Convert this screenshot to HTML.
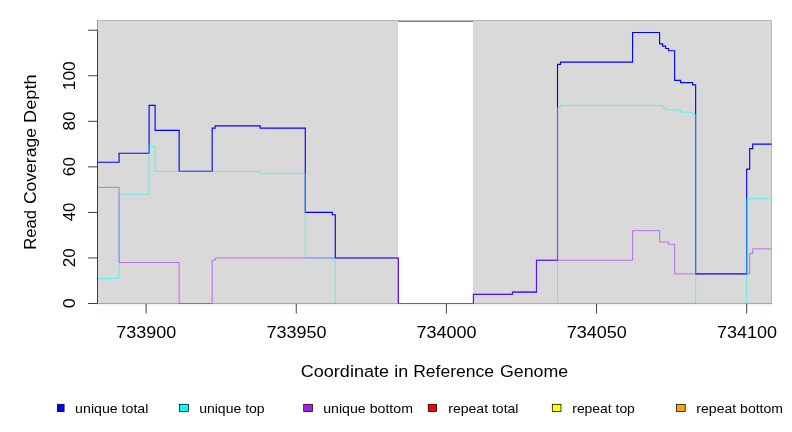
<!DOCTYPE html>
<html><head><meta charset="utf-8"><title>Read Coverage Depth</title>
<style>
html,body{margin:0;padding:0;background:#fff;}
body{width:792px;height:432px;overflow:hidden;}
svg{display:block;font-family:"Liberation Sans",sans-serif;will-change:transform;}
</style></head><body>
<svg width="792" height="432" viewBox="0 0 792 432">
<rect x="0" y="0" width="792" height="432" fill="#ffffff"/>

<g shape-rendering="crispEdges">
<rect x="97" y="20" width="675" height="1" fill="#b8b8b8"/>
<rect x="398" y="21" width="75" height="1" fill="#808080"/>
<rect x="98" y="21" width="300" height="283" fill="#d9d9d9"/>
<rect x="473" y="21" width="298" height="283" fill="#d9d9d9"/>
<rect x="771" y="20" width="1" height="284" fill="#b8b8b8"/>
<rect x="97" y="20" width="1" height="11" fill="#a0a0a0"/>
</g>
<g fill="none" stroke-linejoin="miter" stroke-linecap="butt">
<rect x="98" y="304" width="674" height="1" fill="#ff0000" fill-opacity="0.09" shape-rendering="crispEdges"/>
<path d="M98.00 303.50H772.00" stroke="#ff0000" stroke-width="1.125"/>
<path d="M98.00 303.50H772.00" stroke="#ffff00" stroke-width="0.5625"/>
<path d="M98.00 303.50H772.00" stroke="#ffa500" stroke-width="0.5625"/>
<path d="M97.50 162.31H119.07V153.20H149.10V105.37H155.11V130.43H179.13V171.42H212.17V128.15H215.17V125.87H260.21V128.15H305.26V212.41H332.29V214.69H335.29V257.95H398.35V303.50H473.43V294.39H512.47V292.11H536.49V260.23H557.51V64.38H560.51V62.11H632.59V32.50H659.61V43.89H662.62V46.17H665.62V48.44H668.62V50.72H674.63V80.32H680.63V82.60H692.65V84.88H695.65V273.90H746.70V169.14H749.70V148.64H752.71V144.09H771.50" stroke="#0000ff" stroke-width="1.125"/>
<path d="M97.50 278.45H119.07V194.19H149.10V146.37H155.11V171.42H260.21V173.69H305.26V257.95H332.29V260.23H335.29V303.50H557.51V107.65H560.51V105.37H662.62V107.65H665.62V109.93H680.63V112.21H692.65V114.48H695.65V303.50H746.70V198.74H771.50" stroke="#00ffff" stroke-width="0.5625"/>
<path d="M97.50 187.36H119.07V262.51H179.13V303.50H212.17V260.23H215.17V257.95H398.35V303.50H473.43V294.39H512.47V292.11H536.49V260.23H632.59V230.63H659.61V242.01H668.62V244.29H674.63V273.90H749.70V253.40H752.71V248.84H771.50" stroke="#a020f0" stroke-width="0.5625"/>
</g>
<g fill="none" stroke="#000" stroke-width="0.75">
<path d="M97.50 30.22V303.50"/>
<path d="M97.50 303.50H88.00"/>
<path d="M97.50 257.95H88.00"/>
<path d="M97.50 212.41H88.00"/>
<path d="M97.50 166.86H88.00"/>
<path d="M97.50 121.32H88.00"/>
<path d="M97.50 75.77H88.00"/>
<path d="M97.50 30.22H88.00"/>
<path d="M146.10 303.90V313.50"/>
<path d="M296.25 303.90V313.50"/>
<path d="M446.40 303.90V313.50"/>
<path d="M596.55 303.90V313.50"/>
<path d="M746.70 303.90V313.50"/>
</g>
<g fill="#000">
<text x="116.34" y="337.90" font-size="16.7px" textLength="59.99" lengthAdjust="spacingAndGlyphs">733900</text>
<text x="266.49" y="337.90" font-size="16.7px" textLength="59.99" lengthAdjust="spacingAndGlyphs">733950</text>
<text x="416.64" y="337.90" font-size="16.7px" textLength="59.99" lengthAdjust="spacingAndGlyphs">734000</text>
<text x="566.79" y="337.90" font-size="16.7px" textLength="59.99" lengthAdjust="spacingAndGlyphs">734050</text>
<text x="716.94" y="337.90" font-size="16.7px" textLength="59.99" lengthAdjust="spacingAndGlyphs">734100</text>
<text x="75.40" y="308.26" font-size="16.7px" textLength="9.99" lengthAdjust="spacingAndGlyphs" transform="rotate(-90 75.40 308.26)">0</text>
<text x="75.40" y="267.22" font-size="16.7px" textLength="19.06" lengthAdjust="spacingAndGlyphs" transform="rotate(-90 75.40 267.22)">20</text>
<text x="75.40" y="221.16" font-size="16.7px" textLength="18.53" lengthAdjust="spacingAndGlyphs" transform="rotate(-90 75.40 221.16)">40</text>
<text x="75.40" y="176.13" font-size="16.7px" textLength="19.06" lengthAdjust="spacingAndGlyphs" transform="rotate(-90 75.40 176.13)">60</text>
<text x="75.40" y="130.59" font-size="16.7px" textLength="19.06" lengthAdjust="spacingAndGlyphs" transform="rotate(-90 75.40 130.59)">80</text>
<text x="75.40" y="90.27" font-size="16.7px" textLength="29.04" lengthAdjust="spacingAndGlyphs" transform="rotate(-90 75.40 90.27)">100</text>
<text x="36.10" y="249.78" font-size="16.3px" textLength="39.76" lengthAdjust="spacingAndGlyphs" transform="rotate(-90 36.10 249.78)">Read</text>
<text x="36.10" y="204.11" font-size="16.3px" textLength="76.07" lengthAdjust="spacingAndGlyphs" transform="rotate(-90 36.10 204.11)">Coverage</text>
<text x="36.10" y="122.90" font-size="16.3px" textLength="48.60" lengthAdjust="spacingAndGlyphs" transform="rotate(-90 36.10 122.90)">Depth</text>
<text x="300.77" y="377.00" font-size="16.3px" textLength="88.23" lengthAdjust="spacingAndGlyphs">Coordinate</text>
<text x="394.20" y="377.00" font-size="16.3px" textLength="13.93" lengthAdjust="spacingAndGlyphs">in</text>
<text x="413.16" y="377.00" font-size="16.3px" textLength="80.79" lengthAdjust="spacingAndGlyphs">Reference</text>
<text x="499.98" y="377.00" font-size="16.3px" textLength="68.14" lengthAdjust="spacingAndGlyphs">Genome</text>
</g>
<g>
<rect x="57.40" y="404.30" width="6.70" height="7.20" fill="#0000ff" stroke="#000" stroke-width="0.75"/>
<text x="75.14" y="412.70" font-size="12.4px" textLength="73.24" lengthAdjust="spacingAndGlyphs">unique total</text>
<rect x="179.30" y="404.30" width="9.20" height="7.20" fill="#00ffff" stroke="#000" stroke-width="0.75"/>
<text x="199.15" y="412.70" font-size="12.4px" textLength="65.52" lengthAdjust="spacingAndGlyphs">unique top</text>
<rect x="303.70" y="404.30" width="8.70" height="7.20" fill="#a020f0" stroke="#000" stroke-width="0.75"/>
<text x="323.24" y="412.70" font-size="12.4px" textLength="89.71" lengthAdjust="spacingAndGlyphs">unique bottom</text>
<rect x="428.20" y="404.30" width="8.40" height="7.20" fill="#ff0000" stroke="#000" stroke-width="0.75"/>
<text x="448.25" y="412.70" font-size="12.4px" textLength="70.24" lengthAdjust="spacingAndGlyphs">repeat total</text>
<rect x="552.30" y="404.30" width="8.70" height="7.20" fill="#ffff00" stroke="#000" stroke-width="0.75"/>
<text x="572.26" y="412.70" font-size="12.4px" textLength="62.60" lengthAdjust="spacingAndGlyphs">repeat top</text>
<rect x="676.50" y="404.30" width="8.70" height="7.20" fill="#ffa500" stroke="#000" stroke-width="0.75"/>
<text x="696.35" y="412.70" font-size="12.4px" textLength="86.70" lengthAdjust="spacingAndGlyphs">repeat bottom</text>
</g>
<rect x="420" y="403" width="1" height="1" fill="#cfcfcf"/>
</svg></body></html>
